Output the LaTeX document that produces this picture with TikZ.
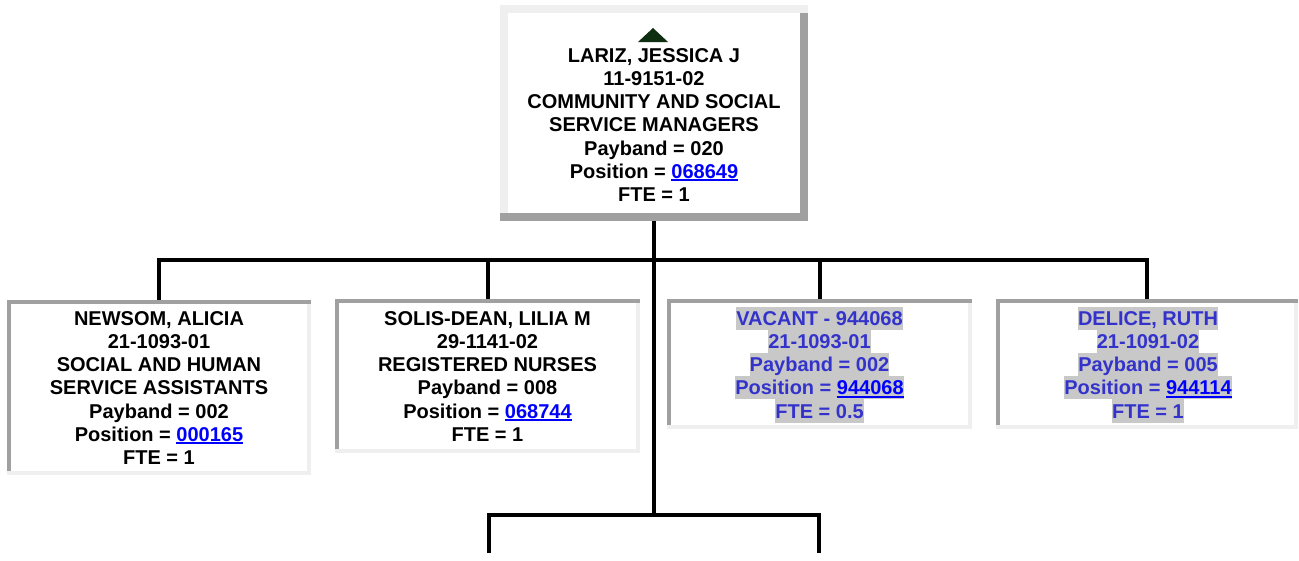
\documentclass[tikz,border=0pt]{standalone}
\usepackage{fontspec}
\setmainfont{Liberation Sans}
\usepackage{xcolor}
\definecolor{lt}{HTML}{EFEFEF}
\definecolor{dk}{HTML}{A0A0A0}
\definecolor{hlgray}{HTML}{C8C8C8}
\definecolor{vblue}{HTML}{3333CC}
\definecolor{linkblue}{HTML}{0000FF}
\definecolor{trigreen}{RGB}{15,45,15}
\newsavebox\lnkbox
\newcommand\lnk[1]{\sbox\lnkbox{\color{linkblue}#1}\rlap{\color{linkblue}\rule[-3pt]{\wd\lnkbox}{2pt}}\usebox\lnkbox}
\newcommand\hlt[1]{{\setlength\fboxsep{0pt}\colorbox{hlgray}{\rule[-4.6pt]{0pt}{23.2pt}\color{vblue}#1}}}
\newcommand\outsetborder[2]{%
  \fill[lt] (#1.north west) rectangle ([yshift=-#2]#1.north east);
  \fill[dk] ([yshift=#2]#1.south west) rectangle (#1.south east);
  \fill[lt] ([yshift=-#2]#1.north west) rectangle ([xshift=#2,yshift=#2]#1.south west);
  \fill[dk] ([xshift=-#2,yshift=-#2]#1.north east) rectangle ([yshift=#2]#1.south east);}
\newcommand\insetborder[2]{%
  \fill[dk] (#1.north west) rectangle ([yshift=-#2]#1.north east);
  \fill[lt] ([yshift=#2]#1.south west) rectangle (#1.south east);
  \fill[dk] ([yshift=-#2]#1.north west) rectangle ([xshift=#2,yshift=#2]#1.south west);
  \fill[lt] ([xshift=-#2,yshift=-#2]#1.north east) rectangle ([yshift=#2]#1.south east);}
\begin{document}
\begin{tikzpicture}[x=1pt,y=-1pt,line join=miter,
  conn/.style={line width=4pt,draw=black},
  boxnode/.style={rectangle,inner sep=0pt,fill=white,draw=none},
  txt/.style={inner sep=0pt,align=center,anchor=north,font=\bfseries\fontsize{20pt}{23.2pt}\selectfont}]
\useasboundingbox[fill=white] (0,0) rectangle (1299,560);
% boxes
\node[boxnode,minimum width=308pt,minimum height=216pt] (mgr) at (654,113) {};
\node[boxnode,minimum width=304pt,minimum height=175pt] (b1) at (159,387.5) {};
\node[boxnode,minimum width=305pt,minimum height=154pt] (b2) at (487.5,376) {};
\node[boxnode,minimum width=305pt,minimum height=130pt] (b3) at (819.5,364) {};
\node[boxnode,minimum width=302pt,minimum height=130pt] (b4) at (1147,364) {};
\outsetborder{mgr}{8pt}
\insetborder{b1}{4pt}
\insetborder{b2}{4pt}
\insetborder{b3}{4pt}
\insetborder{b4}{4pt}
% icon
\fill[trigreen] (638,42) -- (668,42) -- (653,28) -- cycle;
% texts
\node[txt] (tm) at (654,43) {\rule{0pt}{19pt}LARIZ, JESSICA J\\11-9151-02\\COMMUNITY AND SOCIAL\\SERVICE MANAGERS\\Payband = 020\\Position = \lnk{068649}\\FTE = 1};
\node[txt] (t1) at (159,306) {\rule{0pt}{19pt}NEWSOM, ALICIA\\21-1093-01\\SOCIAL AND HUMAN\\SERVICE ASSISTANTS\\Payband = 002\\Position = \lnk{000165}\\FTE = 1};
\node[txt] (t2) at (487.5,306) {\rule{0pt}{19pt}SOLIS-DEAN, LILIA M\\29-1141-02\\REGISTERED NURSES\\Payband = 008\\Position = \lnk{068744}\\FTE = 1};
\node[txt] (t3) at (819.5,306) {\rule{0pt}{19pt}\hlt{VACANT - 944068}\\\hlt{21-1093-01}\\\hlt{Payband = 002}\\\hlt{Position = \lnk{944068}}\\\hlt{FTE = 0.5}};
\node[txt] (t4) at (1148,306) {\rule{0pt}{19pt}\hlt{DELICE, RUTH}\\\hlt{21-1091-02}\\\hlt{Payband = 005}\\\hlt{Position = \lnk{944114}}\\\hlt{FTE = 1}};
% connectors
\coordinate (j1) at (654,260);
\coordinate (j2) at (654,515);
\coordinate (l1) at (489,553);
\coordinate (l2) at (819,553);
\draw[conn] (b1.north) |- (j1) -| (b4.north);
\draw[conn] (b2.north) -- (b2.north |- j1);
\draw[conn] (b3.north) -- (b3.north |- j1);
\draw[conn] (mgr.south) -- (j2);
\draw[conn] (l1) |- (j2) -| (l2);
\end{tikzpicture}
\end{document}
